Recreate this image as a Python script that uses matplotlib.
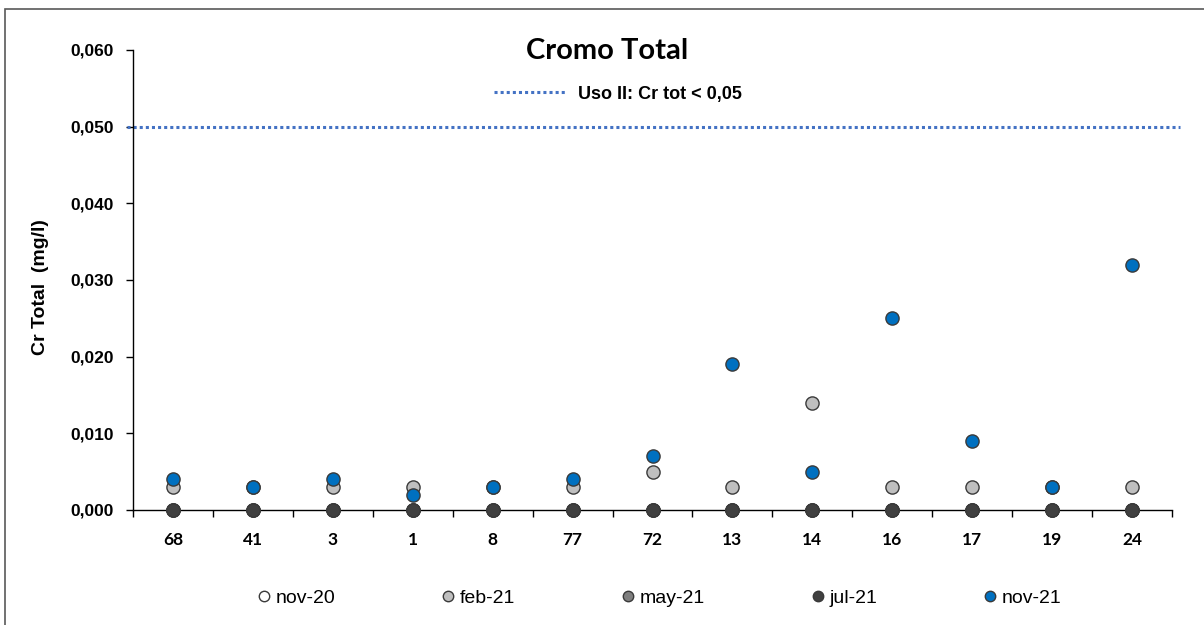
import matplotlib
matplotlib.use("Agg")
import matplotlib.pyplot as plt
import matplotlib.patches as mpatches
from matplotlib.lines import Line2D
from matplotlib.ticker import FuncFormatter, FixedLocator

# Data (mg/l) per sampling point
categories = ["68", "41", "3", "1", "8", "77", "72", "13", "14", "16", "17", "19", "24"]
nov20 = [0.000, 0.000, 0.000, 0.000, 0.000, 0.000, 0.000, 0.000, 0.000, 0.000, 0.000, 0.000, 0.000]
feb21 = [0.003, 0.003, 0.003, 0.003, 0.003, 0.003, 0.005, 0.003, 0.014, 0.003, 0.003, 0.003, 0.003]
may21 = [0.000, 0.000, 0.000, 0.000, 0.000, 0.000, 0.000, 0.000, 0.000, 0.000, 0.000, 0.000, 0.000]
jul21 = [0.000, 0.000, 0.000, 0.000, 0.000, 0.000, 0.000, 0.000, 0.000, 0.000, 0.000, 0.000, 0.000]
nov21 = [0.004, 0.003, 0.004, 0.002, 0.003, 0.004, 0.007, 0.019, 0.005, 0.025, 0.009, 0.003, 0.032]
series_names = ["nov-20", "feb-21", "may-21", "jul-21", "nov-21"]
limit_value = 0.05
limit_label = "Uso II: Cr tot < 0,05"

ARIAL = ["Liberation Sans", "DejaVu Sans"]
CALIBRI = ["Lato", "Open Sans", "DejaVu Sans"]

fig = plt.figure(figsize=(12.04, 6.25), dpi=100)
ax = fig.add_axes([133 / 1204, 1 - 510 / 625, (1172 - 133) / 1204, (510 - 50) / 625])

# outer chart frame (right/bottom edges fall outside the picture)
fig.patches.append(mpatches.Rectangle((5 / 1204, -0.1), 1.2, 1.1 - 9 / 625,
                                      transform=fig.transFigure, fill=False,
                                      edgecolor="#595959", linewidth=1.2))

x = list(range(len(categories)))
faces = ["#FFFFFF", "#BFBFBF", "#7F7F7F", "#404040", "#0070C0"]
for vals, face in zip([nov20, feb21, may21, jul21, nov21], faces):
    ax.plot(x, vals, linestyle="none", marker="o", markersize=9.5,
            markerfacecolor=face, markeredgecolor="#3A3A3A", markeredgewidth=1.0,
            zorder=3, clip_on=False)

ax.set_xlim(-0.5, len(categories) - 0.5)
ax.set_ylim(0, 0.06)

# limit line, a bit longer than the axis
x0, x1 = ax.get_xlim()
limit_line, = ax.plot([x0 - 0.075, x1 + 0.1], [limit_value, limit_value],
                      color="#4472C4", linewidth=2.2, linestyle=(0, (1, 1)),
                      clip_on=False, zorder=2)

ax.spines["top"].set_visible(False)
ax.spines["right"].set_visible(False)
ax.spines["left"].set_linewidth(1.0)
ax.spines["bottom"].set_linewidth(1.0)

ax.set_yticks([0, 0.01, 0.02, 0.03, 0.04, 0.05, 0.06])
ax.yaxis.set_major_formatter(FuncFormatter(lambda v, p: f"{v:.3f}".replace(".", ",")))
ax.tick_params(axis="y", direction="out", length=5, width=1, pad=9)
for lab in ax.get_yticklabels():
    lab.set_family(ARIAL)
    lab.set_fontweight("bold")
    lab.set_fontsize(12.5)

ax.set_xticks(x)
ax.set_xticklabels(categories, fontsize=12.5, fontweight="bold", family=CALIBRI)
ax.xaxis.set_minor_locator(FixedLocator([i + 0.5 for i in range(-1, len(categories))]))
ax.tick_params(axis="x", which="major", length=0, pad=16)
ax.tick_params(axis="x", which="minor", direction="out", length=5, width=1)

ax.set_ylabel("Cr Total  (mg/l)", fontsize=14, fontweight="bold", family=ARIAL)
ax.yaxis.set_label_coords(-0.081, 0.485)

fig.text(607 / 1204, 1 - 51 / 625, "Cromo Total", ha="center", va="center",
         fontsize=21, fontweight="bold", family=CALIBRI)

fig.legend(handles=[limit_line], labels=[limit_label], loc="center",
           bbox_to_anchor=(618 / 1204, 1 - 94 / 625), frameon=False,
           handlelength=3.9, handletextpad=0.75,
           prop={"family": ARIAL, "weight": "bold", "size": 13})

handles = [Line2D([0], [0], linestyle="none", marker="o", markersize=7.5,
                  markerfacecolor=f, markeredgecolor="#3A3A3A", markeredgewidth=1.0)
           for f in faces]
fig.legend(handles=handles, labels=series_names, loc="center",
           bbox_to_anchor=(660 / 1204, 1 - 598 / 625), ncol=5, frameon=False,
           handlelength=0.6, handletextpad=0.3, columnspacing=5.5,
           prop={"family": ARIAL, "size": 14})

fig.savefig("out.png", dpi=100)
